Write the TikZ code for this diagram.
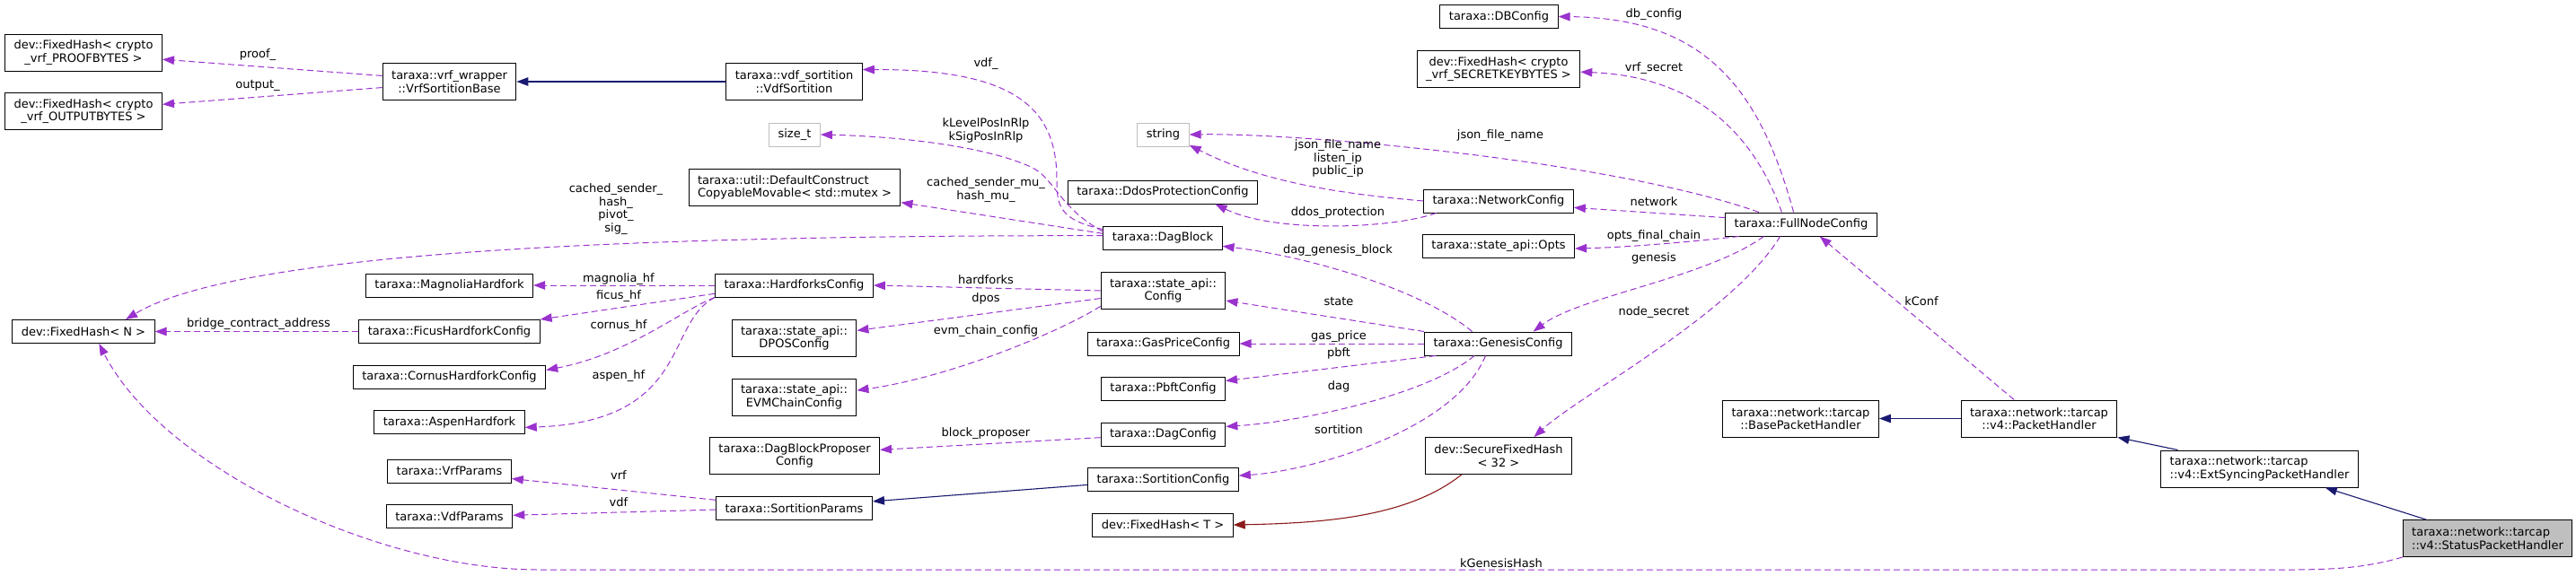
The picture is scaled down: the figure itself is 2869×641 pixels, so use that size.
\documentclass[tikz,border=0pt]{standalone}
\usepackage{fontspec}
\setmainfont{DejaVu Sans}
\usetikzlibrary{arrows.meta}
\definecolor{usecol}{HTML}{9A32CD}
\definecolor{inhcol}{HTML}{191970}
\definecolor{tplcol}{HTML}{8B1A1A}
\definecolor{extgray}{HTML}{BFBFBF}
\tikzset{
  cls/.style={draw=black,line width=1pt,minimum height=26pt,inner xsep=10pt,
    inner ysep=2pt,align=center},
  cls2/.style={cls,minimum height=41pt},
  ext/.style={cls,draw=extgray},
  focus/.style={cls2,fill=extgray},
  lbl/.style={inner sep=1pt,align=center},
  use/.style={usecol,line width=1pt,dash pattern=on 7pt off 4pt,
    -{Triangle[length=13pt,width=9.5pt]}},
  inherit/.style={inhcol,line width=1.1pt,-{Triangle[length=13pt,width=9.5pt]}},
  tmpl/.style={tplcol,line width=1.1pt,-{Triangle[length=13pt,width=9.5pt]}}
}
\begin{document}
\begin{tikzpicture}[x=1pt,y=-1pt,font=\fontsize{13}{14.5}\selectfont]
  \useasboundingbox (0,0) rectangle (2869,641);

  % column 1: hashes at the far left
  \node[cls2] (proofH) at (93,58.5) {dev::FixedHash< crypto\\\_vrf\_PROOFBYTES >};
  \node[cls2] (outH) at (93,124) {dev::FixedHash< crypto\\\_vrf\_OUTPUTBYTES >};
  \node[cls] (fixedN) at (93,369.5) {dev::FixedHash< N >};

  % column 2
  \node[cls2] (vrfBase) at (500.5,91) {taraxa::vrf\_wrapper\\::VrfSortitionBase};
  \node[cls] (magnolia) at (500.5,318) {taraxa::MagnoliaHardfork};
  \node[cls] (ficus) at (500.5,369.5) {taraxa::FicusHardforkConfig};
  \node[cls] (cornus) at (500.5,420) {taraxa::CornusHardforkConfig};
  \node[cls] (aspen) at (500.5,470.5) {taraxa::AspenHardfork};
  \node[cls] (vrfP) at (500.5,525) {taraxa::VrfParams};
  \node[cls] (vdfP) at (500.5,575.5) {taraxa::VdfParams};

  % column 3
  \node[cls2] (vdfSort) at (884.5,91) {taraxa::vdf\_sortition\\::VdfSortition};
  \node[ext] (sizeT) at (885,150) {size\_t};
  \node[cls2,align=left] (mutexW) at (885,209)
    {taraxa::util::DefaultConstruct\\CopyableMovable< std::mutex >};
  \node[cls] (hardforks) at (884.5,318) {taraxa::HardforksConfig};
  \node[cls2] (dpos) at (884.5,377) {taraxa::state\_api::\\DPOSConfig};
  \node[cls2] (evm) at (884.5,442.5) {taraxa::state\_api::\\EVMChainConfig};
  \node[cls2] (proposer) at (885,508) {taraxa::DagBlockProposer\\Config};
  \node[cls] (sortP) at (884.5,566.5) {taraxa::SortitionParams};

  % column 4
  \node[ext] (strT) at (1295.5,150) {string};
  \node[cls] (ddos) at (1295,214) {taraxa::DdosProtectionConfig};
  \node[cls] (dagBlock) at (1295,265) {taraxa::DagBlock};
  \node[cls2] (stateCfg) at (1295.5,324) {taraxa::state\_api::\\Config};
  \node[cls] (gasPrice) at (1295.5,383) {taraxa::GasPriceConfig};
  \node[cls] (pbft) at (1295.5,433) {taraxa::PbftConfig};
  \node[cls] (dagCfg) at (1295.5,484) {taraxa::DagConfig};
  \node[cls] (sortCfg) at (1295.5,534.5) {taraxa::SortitionConfig};
  \node[cls] (fixedT) at (1295,585) {dev::FixedHash< T >};

  % column 5
  \node[cls] (dbCfg) at (1669.5,18.5) {taraxa::DBConfig};
  \node[cls2] (secret) at (1669,77) {dev::FixedHash< crypto\\\_vrf\_SECRETKEYBYTES >};
  \node[cls] (netCfg) at (1669,224) {taraxa::NetworkConfig};
  \node[cls] (opts) at (1669,274) {taraxa::state\_api::Opts};
  \node[cls] (genesis) at (1668.5,383) {taraxa::GenesisConfig};
  \node[cls2] (secureH) at (1669,508) {dev::SecureFixedHash\\< 32 >};

  % packet handlers on the right
  \node[cls] (fullNode) at (2006,250) {taraxa::FullNodeConfig};
  \node[cls2] (baseH) at (2005.5,466.5) {taraxa::network::tarcap\\::BasePacketHandler};
  \node[cls2] (packetH) at (2271,466.5) {taraxa::network::tarcap\\::v4::PacketHandler};
  \node[cls2,align=left] (extH) at (2516.5,522.5)
    {taraxa::network::tarcap\\::v4::ExtSyncingPacketHandler};
  \node[focus,align=left] (statusH) at (2770.5,600)
    {taraxa::network::tarcap\\::v4::StatusPacketHandler};

  % base classes and template instance
  \draw[inherit] (vdfSort.west) -- (vrfBase.east);
  \draw[inherit] (packetH.west) -- (baseH.east);
  \draw[inherit] (extH.167) -- (packetH.south east);
  \draw[inherit] (statusH.163) -- (extH.344);
  \draw[inherit] (sortCfg.184) -- (sortP.5);
  \draw[tmpl] (secureH.207) .. controls (1570,575) and (1480,583) .. (fixedT.east);

  % members
  \draw[use] (vrfBase.175) -- (proofH.355);
  \draw[use] (vrfBase.185) -- (outH.5);
  \draw[use] (dagBlock.172) .. controls (1180,245) and (1177,230) .. (1177,200)
    .. controls (1177,120) and (1130,77) .. (vdfSort.10);
  \draw[use] (dagBlock.174) .. controls (1180,232) and (1175,200) .. (1150,187)
    .. controls (1100,163) and (1000,152) .. (sizeT.east);
  \draw[use] (dagBlock.176) -- (mutexW.352);
  \draw[use] (dagBlock.178) .. controls (600,262) and (250,290) .. (fixedN.16);
  \draw[use] (netCfg.west) .. controls (1480,215) and (1400,200) .. (strT.338);
  \draw[use] (fullNode.164) .. controls (1800,180) and (1450,148) .. (strT.east);
  \draw[use] (netCfg.191) .. controls (1550,255) and (1420,260) .. (ddos.347);
  \draw[use] (genesis.155) .. controls (1580,320) and (1450,285) .. (dagBlock.352);
  \draw[use] (fullNode.122) .. controls (1960,100) and (1900,20) .. (dbCfg.east);
  \draw[use] (fullNode.148) .. controls (1950,140) and (1880,85) .. (secret.358);
  \draw[use] (fullNode.175) -- (netCfg.355);
  \draw[use] (fullNode.191) .. controls (1860,272) and (1800,276) .. (opts.358);
  \draw[use] (fullNode.198) .. controls (1900,310) and (1760,330) .. (genesis.19);
  \draw[use] (fullNode.210) .. controls (1930,350) and (1760,440) .. (secureH.28);
  \draw[use] (packetH.143) -- (fullNode.327);
  \draw[use] (statusH.south west) .. controls (2620,637) and (2580,635) .. (2480,635)
    -- (600,635) .. controls (420,635) and (180,520) .. (fixedN.322);
  \draw[use] (hardforks.west) -- (magnolia.east);
  \draw[use] (hardforks.186) -- (ficus.north east);
  \draw[use] (hardforks.south west) .. controls (760,345) and (700,395) .. (cornus.4);
  \draw[use] (hardforks.south west) .. controls (740,360) and (770,470) .. (aspen.356);
  \draw[use] (ficus.west) -- (fixedN.east);
  \draw[use] (stateCfg.west) -- (hardforks.east);
  \draw[use] (stateCfg.187) -- (dpos.7);
  \draw[use] (stateCfg.194) .. controls (1180,370) and (1060,420) .. (evm.6);
  \draw[use] (genesis.north west) -- (stateCfg.351);
  \draw[use] (genesis.west) -- (gasPrice.east);
  \draw[use] (genesis.191) -- (pbft.7);
  \draw[use] (genesis.207) .. controls (1590,440) and (1450,470) .. (dagCfg.7);
  \draw[use] (genesis.224) .. controls (1620,480) and (1460,525) .. (sortCfg.3);
  \draw[use] (dagCfg.183) -- (proposer.4);
  \draw[use] (sortP.174) -- (vrfP.353);
  \draw[use] (sortP.181) -- (vdfP.1);

  % member names
  \foreach \nm/\x/\y/\txt in {
    lProof/287/61/{proof\_}, lOutput/287/95/{output\_},
    lVdf/1098/71/{vdf\_}, lPos/1098/145.5/{kLevelPosInRlp\\kSigPosInRlp},
    lMu/1098/211.5/{cached\_sender\_mu\_\\hash\_mu\_},
    lSender/686/233/{cached\_sender\_\\hash\_\\pivot\_\\sig\_},
    lMagnolia/689/311/{magnolia\_hf}, lFicus/689/330/{ficus\_hf},
    lBridge/288/361/{bridge\_contract\_address}, lCornus/689/363/{cornus\_hf},
    lAspen/689/419/{aspen\_hf}, lVrf/689/530/{vrf}, lVdfP/689/560/{vdf},
    lHard/1098/312/{hardforks}, lDpos/1098/333/{dpos},
    lEvm/1098/369/{evm\_chain\_config}, lProp/1098/483/{block\_proposer},
    lIp/1490/177/{json\_file\_name\\listen\_ip\\public\_ip},
    lJson/1671/151/{json\_file\_name}, lDdos/1490/237/{ddos\_protection},
    lGenBlk/1490/279/{dag\_genesis\_block}, lState/1491/336/{state},
    lGas/1491/375/{gas\_price}, lPbft/1491/394/{pbft}, lDag/1491/431/{dag},
    lSort/1491/479/{sortition}, lKGen/1672/628/{kGenesisHash},
    lDb/1842/16/{db\_config}, lSecret/1842/76/{vrf\_secret},
    lNet/1842/225/{network}, lOpts/1842/263/{opts\_final\_chain},
    lGen/1842/288/{genesis}, lNode/1842/348/{node\_secret},
    lConf/2140/336/{kConf}}
    \node[lbl] (\nm) at (\x,\y) {\txt};
\end{tikzpicture}
\end{document}
